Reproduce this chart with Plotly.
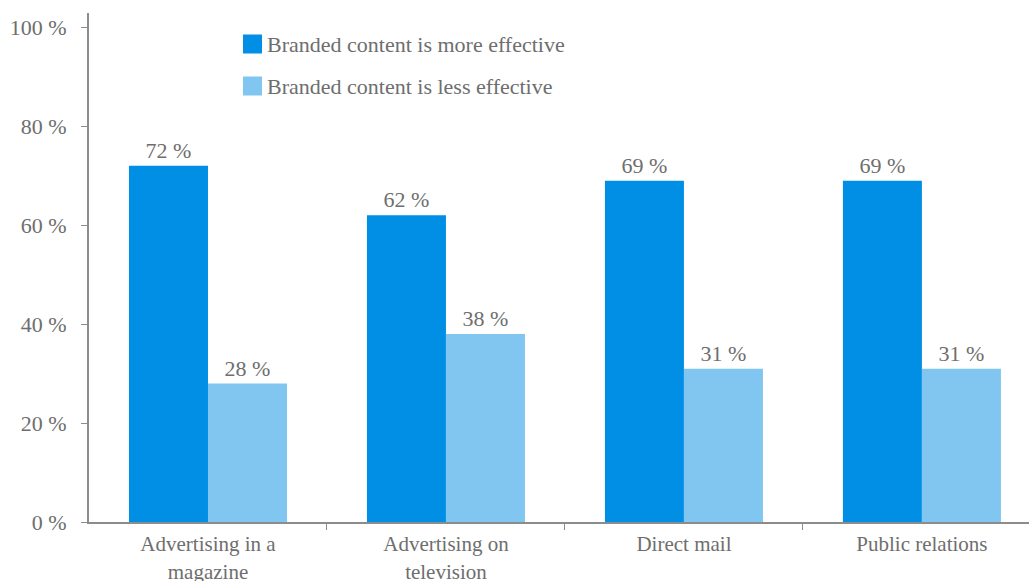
import plotly.graph_objects as go

categories = ["Advertising in a<br>magazine", "Advertising on<br>television", "Direct mail", "Public relations"]
more_effective = [72, 62, 69, 69]
less_effective = [28, 38, 31, 31]
series_names = ["Branded content is more effective", "Branded content is less effective"]
series_colors = ["#008FE5", "#80C6F0"]
y_tick_vals = [0, 20, 40, 60, 80, 100]
y_tick_text = ["0 %", "20 %", "40 %", "60 %", "80 %", "100 %"]

FONT = "Liberation Serif"
FS = 23
GREY = "#6e6e6e"
AXIS = "#8c8c8c"
xpos = list(range(len(categories)))

fig = go.Figure()
for vals, name, col in [(more_effective, series_names[0], series_colors[0]),
                        (less_effective, series_names[1], series_colors[1])]:
    fig.add_trace(go.Bar(
        x=xpos, y=vals, name=name, marker_color=col, marker_line_width=0,
        text=[f"{v} %" for v in vals], textposition="outside",
        textfont=dict(family=FONT, size=FS - 1, color=GREY), cliponaxis=False))

# legend drawn as squares + text (larger squares than plotly's built-in legend)
W, H = 1029, 581
ML, MR, MT, MB = 89, 0, 13, 59
pw, ph = W - ML - MR, H - MT - MB
def px(x): return (x - ML) / pw
def py(y): return (H - MB - y) / ph

shapes, annos = [], []
for i, (name, col) in enumerate(zip(series_names, series_colors)):
    cy = 44 + i * 42
    shapes.append(dict(type="rect", xref="paper", yref="paper",
                       x0=px(243), x1=px(262), y0=py(cy + 9.5), y1=py(cy - 9.5),
                       fillcolor=col, line_width=0))
    annos.append(dict(xref="paper", yref="paper", x=px(265), y=py(cy), xanchor="left",
                      yanchor="middle", text=name, showarrow=False,
                      font=dict(family=FONT, size=FS - 1, color=GREY)))

fig.update_layout(
    width=W, height=H,
    margin=dict(l=ML, r=MR, t=MT, b=MB, autoexpand=False),
    paper_bgcolor="white", plot_bgcolor="white",
    barmode="group", bargap=0.336, bargroupgap=0,
    font=dict(family=FONT, size=FS, color=GREY),
    showlegend=False, shapes=shapes, annotations=annos,
    xaxis=dict(
        range=[-0.5, 3.45], tickvals=xpos, ticktext=categories, ticks="",
        showline=True, linecolor=AXIS, linewidth=2, showgrid=False, zeroline=False,
        automargin=False,
        tickfont=dict(family=FONT, size=21, color=GREY), ticklabelstandoff=2,
        minor=dict(tickvals=[0.5, 1.5, 2.5], ticks="outside", ticklen=6, tickcolor=AXIS, tickwidth=1),
    ),
    yaxis=dict(
        range=[0, 102.9], tickvals=y_tick_vals, ticktext=y_tick_text, ticks="outside",
        ticklen=6, tickcolor=AXIS, tickwidth=1, showline=True, linecolor=AXIS, linewidth=2,
        showgrid=False, zeroline=False, ticklabelstandoff=10, automargin=False,
        tickfont=dict(family=FONT, size=22, color=GREY),
    ),
)

fig.write_html("out.html")
